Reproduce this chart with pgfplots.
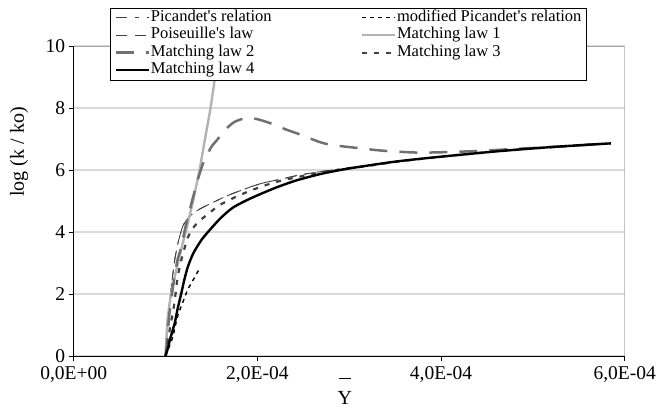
\documentclass[border=0pt]{standalone}
\usepackage{pgfplots}
\pgfplotsset{compat=1.18}
\usepackage{fontspec}
\setmainfont{Liberation Serif}[Ligatures=TeXOff]
\definecolor{gridc}{HTML}{D9D9D9}
\definecolor{frm}{HTML}{A6A6A6}
\definecolor{dk}{HTML}{404040}
\definecolor{mg}{HTML}{707070}
\definecolor{lg}{HTML}{B3B3B3}
\begin{document}
\begin{tikzpicture}
\begin{axis}[
  scale only axis, width=551pt, height=310pt,
  xmin=0, xmax=6, ymin=0, ymax=10,
  axis lines=left, axis line style={-, black, line width=0.8pt},
  xtick={0,2,4,6}, xticklabels={{0,0E+00},{2,0E-04},{4,0E-04},{6,0E-04}},
  ytick={0,2,4,6,8,10},
  tick align=outside, major tick length=5pt,
  tick style={black, line width=0.8pt},
  ymajorgrids, major grid style={gridc, line width=1.2pt},
  /pgf/number format/assume math mode=true,
  ticklabel style={font=\fontsize{19.5}{23}\selectfont},
  xticklabel style={inner ysep=5pt},
  yticklabel style={inner ysep=0pt},
  xlabel={\vbox{\halign{\hfil#\hfil\cr\rule{12pt}{0.8pt}\cr\noalign{\vskip 1.5pt}Y\cr}}},
  ylabel={log (k / ko)},
  every axis x label/.style={at={(axis description cs:0.492,-0.113)}, anchor=center, font=\fontsize{20}{24}\selectfont},
  every axis y label/.style={at={(axis description cs:-0.0993,0.658)}, rotate=90, anchor=center, font=\fontsize{20}{24}\selectfont},
  legend columns=2,
  legend cell align=left,
  legend image code/.code={\draw[#1] (0pt,0pt) -- (33pt,0pt);},
  legend style={at={(axis description cs:0.0659,1.124)}, anchor=north west,
    draw=black, line width=0.8pt, fill=white,
    font=\fontsize{16.5}{17.5}\selectfont,
    inner xsep=4pt, inner ysep=1pt,
    nodes={inner xsep=1pt, inner ysep=1pt, text height=11.5pt, text depth=4pt},
    /tikz/every even column/.append style={column sep=88pt}},
]
\addplot[dk, line width=0.9pt, dash pattern=on 11pt off 8pt on 4pt off 8pt, smooth, tension=0.4] coordinates {
(1.00,0) (1.02,0.8) (1.04,1.6) (1.07,2.4) (1.10,3.1) (1.14,3.7) (1.19,4.2) (1.26,4.5) (1.34,4.68) (1.41,4.8) (1.5,4.93) (1.62,5.1) (1.73,5.24) (1.84,5.36) (1.95,5.48) (2.06,5.58) (2.2,5.67) (2.31,5.74) (2.46,5.84) (2.65,5.93) (2.82,6.0) (3.05,6.09) (3.3,6.18) (3.6,6.3) (3.9,6.4) (4.3,6.52) (4.7,6.62) (5.2,6.74) (5.85,6.86)};
\addlegendentry{Picandet's relation}
\addplot[black, line width=1.4pt, dash pattern=on 4pt off 4pt, smooth, tension=0.4] coordinates {
(1.00,0) (1.04,0.3) (1.08,0.62) (1.13,1.27) (1.19,1.75) (1.24,2.13) (1.30,2.45) (1.37,2.82)};
\addlegendentry{modified Picandet's relation}
\addplot[dk, line width=0.9pt, dash pattern=on 11pt off 8pt, smooth, tension=0.4] coordinates {
(1.00,0) (1.02,0.8) (1.04,1.6) (1.07,2.4) (1.10,3.1) (1.14,3.7) (1.19,4.2) (1.26,4.5) (1.34,4.68) (1.41,4.8) (1.5,4.93) (1.62,5.1) (1.73,5.24) (1.84,5.36) (1.95,5.48) (2.06,5.58) (2.2,5.67) (2.31,5.74) (2.46,5.84) (2.65,5.93) (2.82,6.0) (3.05,6.09) (3.3,6.18) (3.6,6.3) (3.9,6.4) (4.3,6.52) (4.7,6.62) (5.2,6.74) (5.85,6.86)};
\addlegendentry{Poiseuille's law}
\addplot[lg, line width=2.4pt, smooth, tension=0.4] coordinates {
(1.0,0) (1.01,0.6) (1.02,1.1) (1.04,1.6) (1.06,2.0) (1.10,2.55) (1.14,3.05) (1.18,3.55) (1.22,4.0) (1.26,4.5) (1.30,5.0) (1.37,6.0) (1.43,7.0) (1.49,8.0) (1.54,9.0) (1.60,10.0) (1.63,10.5)};
\addlegendentry{Matching law 1}
\addplot[mg, line width=2.5pt, dash pattern=on 18pt off 12pt, smooth, tension=0.4] coordinates {
(1.0,0) (1.02,0.6) (1.04,1.3) (1.07,2.0) (1.10,2.6) (1.13,3.1) (1.17,3.5) (1.22,4.2) (1.28,4.9) (1.35,5.68) (1.42,6.3) (1.50,6.75) (1.57,7.0) (1.65,7.3) (1.75,7.55) (1.88,7.68) (2.0,7.64) (2.15,7.5) (2.3,7.32) (2.46,7.15) (2.68,6.9) (2.82,6.8) (3.0,6.74) (3.15,6.69) (3.3,6.64) (3.47,6.6) (3.77,6.56) (4.1,6.58) (4.45,6.62) (4.8,6.68) (5.2,6.74) (5.85,6.86)};
\addlegendentry{Matching law 2}
\addplot[dk, line width=2.2pt, dash pattern=on 5pt off 7pt, smooth, tension=0.4] coordinates {
(1.0,0) (1.03,0.5) (1.05,0.94) (1.08,1.4) (1.10,1.8) (1.13,2.5) (1.16,2.95) (1.19,3.3) (1.24,3.8) (1.30,4.13) (1.37,4.36) (1.45,4.55) (1.59,4.87) (1.77,5.14) (1.93,5.34) (2.1,5.52) (2.25,5.65) (2.42,5.76) (2.6,5.87) (2.8,5.97) (3.0,6.06) (3.2,6.13) (3.5,6.26) (4.0,6.43) (4.6,6.6) (5.2,6.74) (5.85,6.86)};
\addlegendentry{Matching law 3}
\addplot[black, line width=2.4pt, smooth, tension=0.4] coordinates {
(1.0,0) (1.03,0.3) (1.05,0.55) (1.10,1.06) (1.13,1.5) (1.17,2.0) (1.20,2.4) (1.24,2.85) (1.30,3.3) (1.39,3.74) (1.48,4.06) (1.6,4.45) (1.73,4.78) (1.88,5.02) (2.03,5.22) (2.2,5.43) (2.42,5.66) (2.7,5.88) (3.0,6.05) (3.5,6.27) (4.0,6.43) (4.6,6.6) (5.2,6.74) (5.85,6.86)};
\addlegendentry{Matching law 4}
\draw[frm, line width=0.8pt] (rel axis cs:0,1) -- (rel axis cs:1,1) -- (rel axis cs:1,0);
\coordinate (sw) at (rel axis cs:0,0);
\end{axis}
\pgfresetboundingbox
\path[use as bounding box] ([xshift=-73.7pt,yshift=-54pt]sw) rectangle ([xshift=583.3pt,yshift=356pt]sw);
\end{tikzpicture}
\end{document}
